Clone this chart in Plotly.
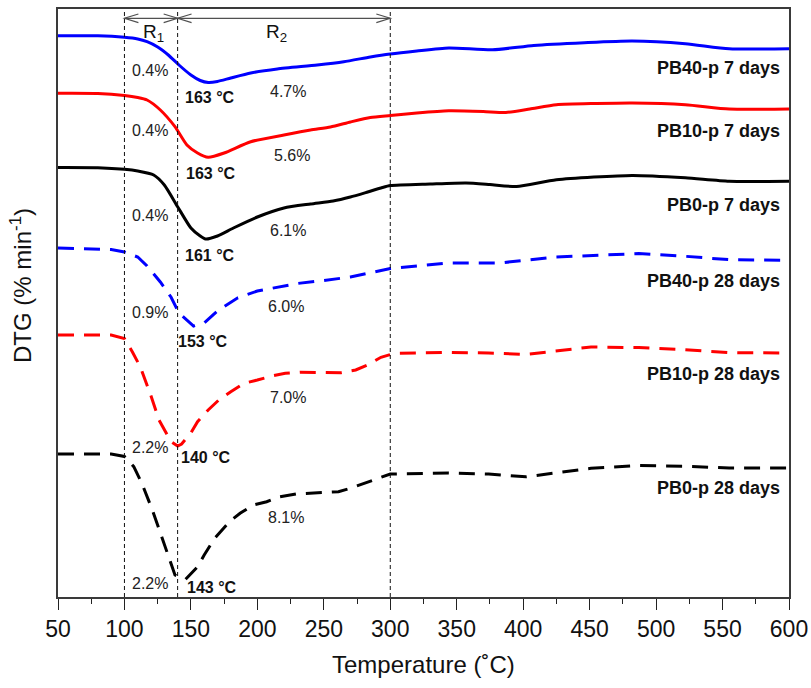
import plotly.graph_objects as go

# Temperature grid (°C) and vertically offset DTG curves (% min^-1, stacked for display)
t_pb40_7 = [50, 80, 100, 110, 117, 125, 133, 141, 150, 157, 163, 170, 180, 195, 215, 245, 265, 285, 300, 320, 344, 377, 408, 446, 482, 522, 555, 600]
dtg_pb40_7 = [-0.357, -0.358, -0.373, -0.390, -0.417, -0.470, -0.550, -0.650, -0.750, -0.805, -0.825, -0.815, -0.780, -0.730, -0.690, -0.650, -0.617, -0.570, -0.540, -0.510, -0.480, -0.498, -0.454, -0.427, -0.410, -0.437, -0.488, -0.488]

t_pb10_7 = [50, 80, 100, 110, 117, 127, 138, 147, 155, 163, 175, 195, 220, 240, 255, 270, 285, 300, 320, 344, 370, 387, 405, 425, 455, 482, 522, 555, 600]
dtg_pb10_7 = [-0.933, -0.935, -0.955, -0.975, -1.000, -1.100, -1.267, -1.450, -1.530, -1.573, -1.530, -1.417, -1.350, -1.300, -1.270, -1.220, -1.175, -1.155, -1.130, -1.108, -1.115, -1.125, -1.090, -1.047, -1.035, -1.030, -1.047, -1.090, -1.090]

t_pb0_7 = [50, 80, 100, 110, 122, 130, 140, 150, 157, 161, 170, 182, 200, 220, 240, 257, 270, 283, 293, 300, 330, 357, 375, 395, 425, 482, 522, 555, 600]
dtg_pb0_7 = [-1.675, -1.677, -1.693, -1.710, -1.750, -1.850, -2.067, -2.280, -2.360, -2.390, -2.360, -2.280, -2.170, -2.080, -2.040, -2.010, -1.970, -1.920, -1.880, -1.856, -1.840, -1.829, -1.845, -1.866, -1.798, -1.754, -1.778, -1.812, -1.812]

t_pb40_28 = [50, 90, 100, 110, 117, 127, 135, 141, 152, 160, 170, 185, 200, 215, 230, 250, 270, 300, 344, 382, 425, 487, 522, 555, 600]
dtg_pb40_28 = [-2.480, -2.495, -2.520, -2.570, -2.660, -2.820, -2.970, -3.130, -3.260, -3.230, -3.110, -2.980, -2.910, -2.870, -2.835, -2.805, -2.770, -2.685, -2.630, -2.630, -2.570, -2.536, -2.563, -2.597, -2.603]

t_pb10_28 = [50, 90, 100, 106, 112, 116, 120, 126, 131, 135, 140, 143, 150, 155, 163, 171, 180, 190, 200, 211, 221, 232, 263, 274, 283, 293, 303, 344, 374, 402, 451, 487, 522, 555, 600]
dtg_pb10_28 = [-3.350, -3.350, -3.385, -3.520, -3.670, -3.810, -3.960, -4.200, -4.320, -4.415, -4.460, -4.440, -4.330, -4.217, -4.100, -4.000, -3.917, -3.833, -3.800, -3.760, -3.733, -3.723, -3.727, -3.700, -3.650, -3.573, -3.533, -3.524, -3.530, -3.544, -3.470, -3.476, -3.497, -3.527, -3.530]

t_pb0_28 = [50, 90, 100, 107, 113, 121, 128, 135, 138, 142, 146, 155, 160, 168, 179, 187, 197, 207, 217, 229, 249, 261, 270, 280, 290, 300, 344, 374, 402, 451, 487, 522, 555, 600]
dtg_pb0_28 = [-4.540, -4.540, -4.565, -4.667, -4.830, -5.100, -5.367, -5.630, -5.750, -5.775, -5.793, -5.667, -5.550, -5.380, -5.217, -5.133, -5.050, -5.017, -4.967, -4.940, -4.927, -4.917, -4.883, -4.833, -4.783, -4.740, -4.730, -4.740, -4.768, -4.683, -4.656, -4.663, -4.680, -4.680]

series_names = ["PB40-p 7 days", "PB10-p 7 days", "PB0-p 7 days",
                "PB40-p 28 days", "PB10-p 28 days", "PB0-p 28 days"]
temps = [t_pb40_7, t_pb10_7, t_pb0_7, t_pb40_28, t_pb10_28, t_pb0_28]
dtgs = [dtg_pb40_7, dtg_pb10_7, dtg_pb0_7, dtg_pb40_28, dtg_pb10_28, dtg_pb0_28]
colors = ["#0000FF", "#FF0000", "#000000", "#0000FF", "#FF0000", "#000000"]

# Mass loss in region R1 (100-140 °C) and R2 (140-300 °C), and peak temperatures
loss_r1 = ["0.4%", "0.4%", "0.4%", "0.9%", "2.2%", "2.2%"]
loss_r2 = ["4.7%", "5.6%", "6.1%", "6.0%", "7.0%", "8.1%"]
peak_temp = [163, 163, 161, 153, 140, 143]

x_ticks = [50, 100, 150, 200, 250, 300, 350, 400, 450, 500, 550, 600]
region_bounds = [100, 140, 300]

FONT = "Liberation Sans, Arial, sans-serif"

fig = go.Figure()
for i, (name, t, d, c) in enumerate(zip(series_names, temps, dtgs, colors)):
    dashed = "28 days" in name
    fig.add_trace(go.Scatter(
        x=t, y=d, mode="lines", name=name,
        line=dict(color=c, width=3,
                  dash="16px,10px" if dashed else "solid",
                  shape="linear" if dashed else "spline",
                  smoothing=0.6),
        showlegend=False, hoverinfo="skip"))

annotations = []
# Label positions (°C, offset DTG) for each curve
r1_pos = [(119.3, -0.705), (119.3, -1.30), (119.3, -2.155), (119.3, -3.12), (119.3, -4.47), (119.3, -5.83)]
r2_pos = [(223.3, -0.91), (225.7, -1.55), (222.9, -2.305), (221.9, -3.06), (222.9, -3.975), (221.9, -5.17)]
pk_pos = [(164.7, -0.975), (165.1, -1.73), (164.0, -2.55), (159.1, -3.41), (161.3, -4.575), (165.8, -5.87)]
name_y = [-0.68, -1.305, -2.05, -2.81, -3.74, -4.88]

for i in range(6):
    annotations.append(dict(x=r1_pos[i][0], y=r1_pos[i][1], text=loss_r1[i], showarrow=False,
                            font=dict(family=FONT, size=16, color="#222")))
    annotations.append(dict(x=r2_pos[i][0], y=r2_pos[i][1], text=loss_r2[i], showarrow=False,
                            font=dict(family=FONT, size=16, color="#222")))
    annotations.append(dict(x=pk_pos[i][0], y=pk_pos[i][1], text=f"<b>{peak_temp[i]} °C</b>",
                            showarrow=False, font=dict(family=FONT, size=16, color="#111")))
    annotations.append(dict(x=594.5, y=name_y[i], text=f"<b>{series_names[i]}</b>", showarrow=False,
                            xanchor="right", font=dict(family=FONT, size=18, color="#111")))

annotations.append(dict(x=121.5, y=-0.33, text="R<sub>1</sub>", showarrow=False,
                        font=dict(family=FONT, size=19, color="#111")))
annotations.append(dict(x=214.6, y=-0.33, text="R<sub>2</sub>", showarrow=False,
                        font=dict(family=FONT, size=19, color="#111")))

# Axis titles
annotations.append(dict(xref="paper", yref="paper", x=0.5, y=-0.1156, text="Temperature (˚C)",
                        showarrow=False, yanchor="middle",
                        font=dict(family=FONT, size=24, color="#111")))
annotations.append(dict(xref="paper", yref="paper", x=-0.0506, y=0.529, text="DTG (% min<sup>-1</sup>)",
                        showarrow=False, textangle=-90, xanchor="center", yanchor="middle",
                        font=dict(family=FONT, size=24, color="#111")))

shapes = []
for xb in region_bounds:
    shapes.append(dict(type="line", xref="x", yref="paper", x0=xb, x1=xb, y0=0, y1=1,
                       line=dict(color="#111", width=1, dash="4px,3px")))

# Double-headed span arrows over R1 and R2
arrow_y = -0.183
arm_dx = 10.5
arm_dy = 0.043
arrow_col = "#505050"
for a, b in [(100, 140), (140, 300)]:
    shapes.append(dict(type="line", xref="x", yref="y", x0=a, x1=b, y0=arrow_y, y1=arrow_y,
                       line=dict(color=arrow_col, width=1.2)))
    shapes.append(dict(type="path", xref="x", yref="y",
                       path=f"M {a + arm_dx},{arrow_y + arm_dy} L {a},{arrow_y} L {a + arm_dx},{arrow_y - arm_dy}",
                       line=dict(color=arrow_col, width=1.2)))
    shapes.append(dict(type="path", xref="x", yref="y",
                       path=f"M {b - arm_dx},{arrow_y + arm_dy} L {b},{arrow_y} L {b - arm_dx},{arrow_y - arm_dy}",
                       line=dict(color=arrow_col, width=1.2)))

fig.update_layout(
    width=811, height=688,
    margin=dict(l=58, r=22, t=9, b=91, autoexpand=False),
    plot_bgcolor="white", paper_bgcolor="white",
    annotations=annotations, shapes=shapes,
    font=dict(family=FONT, color="#111"),
)
fig.update_xaxes(range=[50, 600], tickvals=x_ticks, ticks="outside", ticklen=11, tickwidth=1.3,
                 tickcolor="#222", showgrid=False, zeroline=False, automargin=False,
                 showline=True, linecolor="#3a3a3a", linewidth=1.5, mirror=True,
                 tickfont=dict(family=FONT, size=23, color="#111"),
                 minor=dict(dtick=25, tick0=50, ticks="outside", ticklen=5, tickwidth=1.2,
                            tickcolor="#222", showgrid=False))
fig.update_yaxes(range=[-5.97, -0.09], showticklabels=False, ticks="", showgrid=False,
                 zeroline=False, automargin=False,
                 showline=True, linecolor="#3a3a3a", linewidth=1.5, mirror=True)

fig.write_html("out.html")
